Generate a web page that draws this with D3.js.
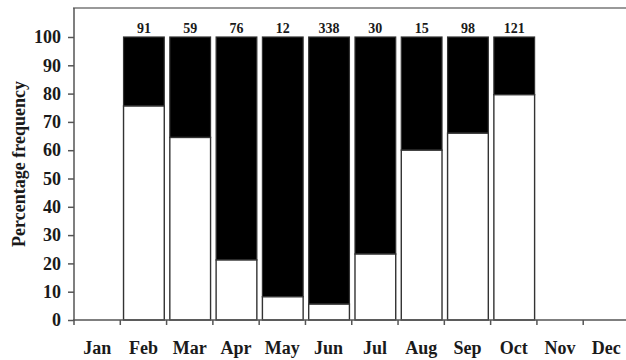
<!DOCTYPE html>
<html>
<head>
<meta charset="utf-8">
<script src="https://cdn.jsdelivr.net/npm/d3@7"></script>
<style>
  html, body { margin: 0; padding: 0; background: #fff; }
  svg { display: block; }
</style>
</head>
<body>
<svg id="chart" width="626" height="360"></svg>
<script>
// Monthly categories and the share (%) of the lower (white) segment
const months = ["Jan", "Feb", "Mar", "Apr", "May", "Jun", "Jul", "Aug", "Sep", "Oct", "Nov", "Dec"];
const activeMonths = ["Feb", "Mar", "Apr", "May", "Jun", "Jul", "Aug", "Sep", "Oct"];
const whiteShare = [75.6, 64.5, 21.2, 8.2, 5.6, 23.3, 60, 66, 79.6];
const sampleSizes = [91, 59, 76, 12, 338, 30, 15, 98, 121];
const yTicks = [0, 10, 20, 30, 40, 50, 60, 70, 80, 90, 100];

const FONT = "'Liberation Serif', 'Times New Roman', serif";
const svg = d3.select("#chart");
const plotLeft = 74, plotRight = 629.5, plotTop = 8, plotBottom = 320;

const x = d3.scaleBand().domain(months).range([plotLeft, plotRight]).padding(0);
const y = d3.scaleLinear().domain([0, 100]).range([plotBottom, 37]);

const axisColor = "#555";
const textColor = "#1a1a1a";

// frame: top rule and y axis line
svg.append("line").attr("x1", plotLeft - 1).attr("x2", 626).attr("y1", plotTop).attr("y2", plotTop)
  .attr("stroke", "#777").attr("stroke-width", 1.5);

const yAxis = d3.axisLeft(y).tickValues(yTicks).tickSize(6).tickPadding(7).tickSizeOuter(0);
const yg = svg.append("g").attr("transform", `translate(${plotLeft},0)`).call(yAxis)
  .attr("font-family", FONT).attr("font-size", 18).attr("font-weight", "bold");
yg.select(".domain").remove();
yg.selectAll(".tick line").attr("stroke", axisColor).attr("stroke-width", 1.5);
yg.selectAll(".tick text").attr("fill", textColor);
svg.append("line").attr("x1", plotLeft).attr("x2", plotLeft).attr("y1", plotTop).attr("y2", plotBottom + 1)
  .attr("stroke", axisColor).attr("stroke-width", 1.5);

// bars: black upper segment and white lower segment
const inset = x.bandwidth() * 0.07;
const bw = x.bandwidth() * 0.88;
const bars = svg.append("g");
activeMonths.forEach((m, i) => {
  const bx = x(m) + inset;
  bars.append("rect").attr("x", bx).attr("y", y(100)).attr("width", bw)
    .attr("height", y(whiteShare[i]) - y(100)).attr("fill", "#000")
    .attr("stroke", "#333").attr("stroke-width", 1.2);
  bars.append("rect").attr("x", bx).attr("y", y(whiteShare[i])).attr("width", bw)
    .attr("height", y(0) - y(whiteShare[i])).attr("fill", "#fff")
    .attr("stroke", "#333").attr("stroke-width", 1.4);
  bars.append("text").attr("x", bx + bw / 2).attr("y", y(100) - 4)
    .attr("text-anchor", "middle").attr("fill", textColor)
    .attr("font-family", FONT).attr("font-size", 14).attr("font-weight", "bold")
    .text(sampleSizes[i]);
});

// x axis with ticks at month boundaries
svg.append("line").attr("x1", plotLeft - 1).attr("x2", 626).attr("y1", plotBottom).attr("y2", plotBottom)
  .attr("stroke", axisColor).attr("stroke-width", 1.5);
const bounds = months.map(m => x(m)).concat([plotRight]);
svg.append("g").selectAll("line").data(bounds).join("line")
  .attr("x1", d => d).attr("x2", d => d).attr("y1", plotBottom).attr("y2", plotBottom + 5)
  .attr("stroke", axisColor).attr("stroke-width", 1.5);
svg.append("g").selectAll("text").data(months).join("text")
  .attr("x", d => x(d) + x.bandwidth() / 2).attr("y", 354)
  .attr("text-anchor", "middle").attr("fill", textColor)
  .attr("font-family", FONT).attr("font-size", 18).attr("font-weight", "bold")
  .text(d => d);

// y axis title
svg.append("text").attr("transform", `translate(25,${(plotTop + plotBottom) / 2}) rotate(-90)`)
  .attr("text-anchor", "middle").attr("fill", textColor)
  .attr("font-family", FONT).attr("font-size", 18).attr("font-weight", "bold")
  .text("Percentage frequency");
</script>
</body>
</html>
